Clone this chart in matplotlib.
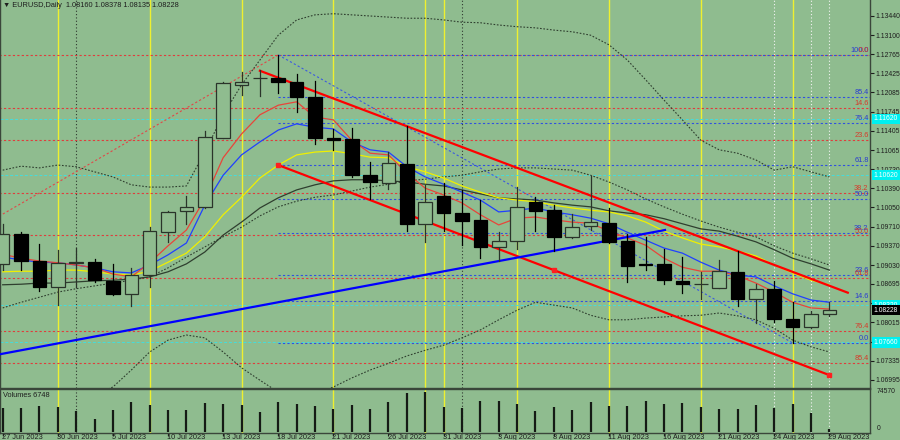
import matplotlib
matplotlib.use('Agg')
import matplotlib.pyplot as plt
from matplotlib.patches import Rectangle
from matplotlib.transforms import blended_transform_factory
import numpy as np

BG = '#8fbc8f'
FONT = ['Liberation Sans', 'DejaVu Sans']
FS = 5.3
FSA = 4.9

# ---------------- data ----------------
date_labels = ['27 Jun 2023', '30 Jun 2023', '5 Jul 2023', '10 Jul 2023', '13 Jul 2023',
               '18 Jul 2023', '21 Jul 2023', '26 Jul 2023', '31 Jul 2023', '3 Aug 2023',
               '8 Aug 2023', '11 Aug 2023', '16 Aug 2023', '21 Aug 2023', '24 Aug 2023',
               '29 Aug 2023']
date_label_bars = [0, 3, 6, 9, 12, 15, 18, 21, 24, 27, 30, 33, 36, 39, 42, 45]

opens = [1.0905, 1.0958, 1.0910, 1.0864, 1.0907, 1.0908, 1.0875, 1.0852, 1.0885, 1.0962,
         1.0999, 1.1006, 1.1128, 1.1222, 1.1234, 1.1234, 1.1227, 1.1200, 1.1128, 1.1126,
         1.1062, 1.1048, 1.1082, 1.0976, 1.1025, 1.0995, 1.0983, 1.0935, 1.0946, 1.1015,
         1.1000, 1.0953, 1.0972, 1.0977, 1.0946, 1.0905, 1.0905, 1.0875, 1.0869, 1.0862,
         1.0891, 1.0843, 1.0861, 1.0807, 1.0793, 1.08160]
highs = [1.0976, 1.0962, 1.0940, 1.0930, 1.0933, 1.0914, 1.0905, 1.0898, 1.0970, 1.0999,
         1.1025, 1.1140, 1.1227, 1.1245, 1.1248, 1.1275, 1.1241, 1.1229, 1.1144, 1.1146,
         1.1085, 1.1103, 1.1149, 1.1045, 1.1048, 1.1036, 1.1018, 1.0962, 1.1041, 1.1024,
         1.1009, 1.0993, 1.1061, 1.1004, 1.0958, 1.0953, 1.0931, 1.0917, 1.0891, 1.0912,
         1.0928, 1.0869, 1.0875, 1.0838, 1.0822, 1.08378]
lows = [1.0894, 1.0894, 1.0857, 1.0832, 1.0864, 1.0873, 1.0850, 1.0830, 1.0864, 1.0944,
        1.0976, 1.1004, 1.1128, 1.1204, 1.1202, 1.1208, 1.1174, 1.1117, 1.1107, 1.1059,
        1.1020, 1.1038, 1.0963, 1.0944, 1.0963, 1.0938, 1.0915, 1.0910, 1.0931, 1.0963,
        1.0928, 1.0951, 1.0965, 1.0942, 1.0873, 1.0894, 1.0869, 1.0853, 1.0843, 1.0862,
        1.0830, 1.0800, 1.0802, 1.0765, 1.0792, 1.08135]
closes = [1.0958, 1.0910, 1.0864, 1.0907, 1.0908, 1.0877, 1.0852, 1.0885, 1.0963, 1.0997,
          1.1006, 1.1130, 1.1225, 1.1227, 1.1235, 1.1227, 1.1201, 1.1128, 1.1124, 1.1062,
          1.1050, 1.1084, 1.0976, 1.1015, 1.0995, 1.0981, 1.0935, 1.0946, 1.1006, 1.0999,
          1.0953, 1.0970, 1.0979, 1.0944, 1.0901, 1.0903, 1.0877, 1.0869, 1.0870, 1.0892,
          1.0843, 1.0861, 1.0807, 1.0793, 1.0816, 1.08228]
volumes = [44400, 45000, 48700, 46300, 39400, 24100, 41300, 56100, 50500, 41300,
           41300, 54200, 52400, 51100, 37600, 55500, 52400, 49200, 43100, 51100,
           42600, 56100, 72200, 74570, 47400, 44400, 57400, 57400, 52400, 38900,
           47400, 41300, 56600, 48700, 49200, 58500, 52900, 54200, 47400, 43100,
           43700, 51100, 45000, 51800, 35700, 6748]

ma_red = [1.0922, 1.0915, 1.0910, 1.0907, 1.0903, 1.0898, 1.0887, 1.0882, 1.0907, 1.0937,
          1.0965, 1.1020, 1.1093, 1.1135, 1.1169, 1.1186, 1.1192, 1.1165, 1.1160, 1.1124,
          1.1101, 1.1098, 1.1066, 1.1039, 1.1027, 1.1013, 1.0992, 1.0974, 1.0986, 1.0988,
          1.0983, 1.0979, 1.0977, 1.0963, 1.0951, 1.0938, 1.0915, 1.0899, 1.0892, 1.0892,
          1.0884, 1.0871, 1.0855, 1.0837, 1.0827, 1.0825]
ma_blue = [1.0917, 1.0912, 1.0908, 1.0907, 1.0903, 1.0898, 1.0891, 1.0889, 1.0903, 1.0921,
           1.0942, 1.1009, 1.1062, 1.1098, 1.1121, 1.1142, 1.1153, 1.1147, 1.1144, 1.1121,
           1.1107, 1.1103, 1.1077, 1.1059, 1.1046, 1.1032, 1.1018, 1.0997, 1.1000, 1.1004,
           1.0997, 1.0992, 1.0986, 1.0976, 1.0961, 1.0947, 1.0933, 1.0924, 1.0908, 1.0894,
           1.0885, 1.0882, 1.0866, 1.0852, 1.0841, 1.0837]
ma_yellow = [1.0891, 1.0892, 1.0892, 1.0894, 1.0894, 1.0891, 1.0887, 1.0885, 1.0892, 1.0908,
             1.0924, 1.0953, 1.0992, 1.1023, 1.1057, 1.1080, 1.1098, 1.1103, 1.1105, 1.1100,
             1.1094, 1.1093, 1.1077, 1.1068, 1.1057, 1.1043, 1.1032, 1.1022, 1.1018, 1.1015,
             1.1009, 1.1004, 1.1000, 1.0997, 1.0990, 1.0979, 1.0963, 1.0951, 1.0940, 1.0935,
             1.0928, 1.0919, 1.0903, 1.0889, 1.0876, 1.0868]
ma_gray = [1.0868, 1.0869, 1.0871, 1.0871, 1.0873, 1.0875, 1.0876, 1.0878, 1.0882, 1.0891,
           1.0905, 1.0926, 1.0956, 1.0979, 1.1004, 1.1022, 1.1036, 1.1045, 1.1052, 1.1054,
           1.1054, 1.1052, 1.1050, 1.1046, 1.1043, 1.1036, 1.1029, 1.1022, 1.1020, 1.1018,
           1.1013, 1.1009, 1.1006, 1.0999, 1.0995, 1.0992, 1.0985, 1.0976, 1.0967, 1.0963,
           1.0954, 1.0944, 1.0930, 1.0915, 1.0905, 1.0894]
bb_mid = [1.0827, 1.0837, 1.0846, 1.0855, 1.0861, 1.0866, 1.0871, 1.0876, 1.0882, 1.0898,
          1.0917, 1.0935, 1.0953, 1.0970, 1.0990, 1.1006, 1.1016, 1.1023, 1.1027, 1.1034,
          1.1041, 1.1046, 1.1052, 1.1055, 1.1059, 1.1062, 1.1068, 1.1073, 1.1075, 1.1075,
          1.1073, 1.1071, 1.1062, 1.1050, 1.1036, 1.1020, 1.1006, 1.0993, 1.0981, 1.0970,
          1.0961, 1.0953, 1.0937, 1.0924, 1.0914, 1.0903]
bb_up = [1.1071, 1.1078, 1.1075, 1.1080, 1.1077, 1.1068, 1.1059, 1.1045, 1.1041, 1.1041,
         1.1043, 1.1103, 1.1169, 1.1222, 1.1266, 1.1310, 1.1337, 1.1346, 1.1348, 1.1346,
         1.1344, 1.1342, 1.1340, 1.1340, 1.1337, 1.1333, 1.1332, 1.1328, 1.1325, 1.1323,
         1.1319, 1.1316, 1.1310, 1.1293, 1.1266, 1.1231, 1.1195, 1.1160, 1.1124, 1.1107,
         1.1101, 1.1089, 1.1071, 1.1077, 1.1068, 1.1059]
bb_low = [1.0629, 1.0637, 1.0646, 1.0655, 1.0664, 1.0673, 1.0687, 1.0717, 1.0749, 1.0770,
          1.0779, 1.0774, 1.0749, 1.0721, 1.0699, 1.0678, 1.0664, 1.0673, 1.0687, 1.0703,
          1.0717, 1.0729, 1.0742, 1.0752, 1.0761, 1.0774, 1.0788, 1.0806, 1.0823, 1.0837,
          1.0832, 1.0827, 1.0814, 1.0806, 1.0806, 1.0809, 1.0811, 1.0813, 1.0814, 1.0818,
          1.0813, 1.0806, 1.0791, 1.0770, 1.0758, 1.0749]

fib_levels = [0.0, 14.6, 23.6, 38.2, 50.0, 61.8, 76.4, 85.4, 100.0]
blue_fib = dict(start_bar=15, end_bar=43, high=1.1275, low=1.0765)
red_fib = dict(start_bar=-19, end_bar=15, high=1.1275, low=1.0636)

chan_upper = ([14.0, 46.0], [1.1247, 1.0854])
chan_lower = ([15.0, 30.0, 45.0], [1.1080, 1.0894, 1.0708])
blue_trend = ([-0.15, 36.05], [1.0745, 1.0965])

cyan_levels = [1.1162, 1.1062, 1.0832, 1.0766]
yellow_vlines = [3, 8, 13, 18, 23, 24, 28, 33, 38, 43]
black_vlines = [4, 25]
white_vlines = [42, 44, 45]

price_ticks = [1.13440, 1.13100, 1.12765, 1.12425, 1.12085, 1.11745, 1.11405, 1.11065,
               1.10730, 1.10390, 1.10050, 1.09710, 1.09370, 1.09030, 1.08695, 1.08355,
               1.08015, 1.07675, 1.07335, 1.06995]
hidden_ticks = [1.08355, 1.07675]   # covered by the price boxes
vol_max_label = 74570

# ---------------- figure ----------------
W, H = 900, 440
fig = plt.figure(figsize=(W / 100, H / 100), dpi=100, facecolor=BG)
ax = fig.add_axes([0, (H - 388) / H, 870 / W, 388 / H], facecolor=BG)
axv = fig.add_axes([0, (H - 433) / H, 870 / W, 44 / H], facecolor=BG, sharex=ax)

n = len(opens)
xs = np.arange(n)
XL = (-0.147, 47.21)
ax.set_xlim(*XL)
ax.set_ylim(1.06852, 1.13723)
axv.set_ylim(-1300, 80120)

for a in (ax, axv):
    for s in a.spines.values():
        s.set_color('#3a463a')
        s.set_linewidth(1.0)
    a.spines['top'].set_visible(a is axv)

# vertical lines in both panels
for a in (ax, axv):
    for b in yellow_vlines:
        a.axvline(b, color='#eef030', lw=1.0, zorder=1)
    for b in black_vlines:
        a.axvline(b, color='#303830', lw=0.8, ls=(0, (1, 2)), zorder=1)
    for b in white_vlines:
        a.axvline(b, color='#f4f4f4', lw=0.8, ls=(0, (1, 2)), zorder=1)

# cyan lines
for p in cyan_levels:
    ax.axhline(p, color='#45dcdc', lw=0.7, ls=(0, (3, 2)), zorder=2)

# red fib (0 at top)
rng = red_fib['high'] - red_fib['low']
for L in fib_levels:
    p = red_fib['high'] - L / 100 * rng
    ax.plot([red_fib['start_bar'], XL[1]], [p, p], color='#e03c3c', lw=0.8,
            ls=(0, (2, 2)), zorder=2)
ax.plot([red_fib['start_bar'], red_fib['end_bar']], [red_fib['low'], red_fib['high']],
        color='#e04848', lw=0.8, ls=(0, (2, 2)), zorder=2)

# blue fib (0 at low)
rngb = blue_fib['high'] - blue_fib['low']
for L in fib_levels:
    p = blue_fib['low'] + L / 100 * rngb
    ax.plot([blue_fib['start_bar'], XL[1]], [p, p], color='#3050e0', lw=0.8,
            ls=(0, (2, 2)), zorder=2)
ax.plot([blue_fib['start_bar'], blue_fib['end_bar']], [blue_fib['high'], blue_fib['low']],
        color='#3c5ae0', lw=0.8, ls=(0, (2, 2)), zorder=2)

# fib labels
xr = XL[1] - 0.08
for L in fib_levels:
    p = blue_fib['low'] + L / 100 * rngb
    ax.text(xr, p + 0.00012, f'{L:.1f}', color='#2a3cd0', fontsize=FS, family=FONT,
            ha='right', va='bottom', zorder=7)
for L in fib_levels:
    p = red_fib['high'] - L / 100 * rng
    if p < ax.get_ylim()[0]:
        continue
    ax.text(xr, p + 0.00012, f'{L:.1f}', color='#d63a2a', fontsize=FS, family=FONT,
            ha='right', va='bottom', zorder=7)

# indicators
ax.plot(xs, bb_up, color='#2f3f2f', lw=0.8, ls=(0, (1.5, 1.5)), zorder=3)
ax.plot(xs, bb_low, color='#2f3f2f', lw=0.8, ls=(0, (1.5, 1.5)), zorder=3)
ax.plot(xs, bb_mid, color='#2f3f2f', lw=0.8, ls=(0, (1.5, 1.5)), zorder=3)
ax.plot(xs, ma_gray, color='#2f3f2f', lw=0.9, zorder=3)
ax.plot(xs, ma_yellow, color='#f0f000', lw=0.9, zorder=3)
ax.plot(xs, ma_blue, color='#2040ff', lw=0.9, zorder=3)
ax.plot(xs, ma_red, color='#e8453a', lw=0.9, zorder=3)

# trend lines
ax.plot(*chan_upper, color='#ff0000', lw=1.6, zorder=4)
ax.plot(*chan_lower, color='#ff0000', lw=1.6, zorder=4)
ax.plot(chan_lower[0], chan_lower[1], ls='none', marker='s', ms=2.5, mfc='#ff2020',
        mec='#ff2020', zorder=4)
ax.plot(*blue_trend, color='#0000ff', lw=1.6, zorder=4)

# candles
bw = 0.74
for i in range(n):
    o, h, l, c = opens[i], highs[i], lows[i], closes[i]
    bull = c >= o
    col = '#2a342a' if bull else '#000000'
    ax.plot([i, i], [l, h], color=col, lw=0.9, zorder=5)
    lo, hi = min(o, c), max(o, c)
    if hi - lo < 0.00008:
        ax.plot([i - bw / 2, i + bw / 2], [o, o], color=col, lw=1.0, zorder=6)
    else:
        ax.add_patch(Rectangle((i - bw / 2, lo), bw, hi - lo,
                               facecolor=BG if bull else '#000000',
                               edgecolor=col, lw=0.9, zorder=6))

# volume bars
axv.vlines(xs, 0, volumes, color='#151a15', lw=1.6, zorder=3)

# ---------------- axes text ----------------
ax.yaxis.tick_right()
ax.set_yticks(price_ticks)
ax.set_yticklabels(['' if p in hidden_ticks else f'{p:.5f}' for p in price_ticks])
ax.tick_params(axis='y', length=3, width=0.8, pad=1.0, labelsize=FSA, colors='#1e1e1e')
for t in ax.get_yticklabels():
    t.set_family(FONT)
ax.tick_params(axis='x', bottom=False, labelbottom=False)

axv.set_yticks([])
axv.set_xticks(date_label_bars)
axv.set_xticklabels([])
axv.tick_params(axis='x', length=2.5, width=0.8, color='#1e1e1e', direction='out')
trans = blended_transform_factory(axv.transData, axv.transAxes)
for b, lab in zip(date_label_bars, date_labels):
    axv.text(b - 0.05, -0.03, lab, transform=trans, fontsize=FS, family=FONT,
             ha='left', va='top', color='#1e1e1e', clip_on=False)
axv.text(1.008, (vol_max_label + 1300) / 81420, f'{vol_max_label}', transform=axv.transAxes,
         fontsize=FSA, family=FONT, ha='left', va='center', color='#1e1e1e', clip_on=False)
axv.text(1.008, 0.1, '0', transform=axv.transAxes, fontsize=FSA, family=FONT,
         ha='left', va='center', color='#1e1e1e', clip_on=False)
axv.text(0.004, 0.86, f'Volumes {volumes[-1]}', transform=axv.transAxes, fontsize=FS,
         family=FONT, ha='left', va='center', color='#1e1e1e')

# cyan price boxes and current price box
tr_y = blended_transform_factory(ax.transAxes, ax.transData)
for p in cyan_levels:
    ax.text(1.0045, p, f'{p:.5f}', transform=tr_y, fontsize=FSA, family=FONT, color='white',
            ha='left', va='center', clip_on=False, zorder=8,
            bbox=dict(boxstyle='square,pad=0.25', fc='#00f0f0', ec='none'))
ax.text(1.0045, closes[-1], f'{closes[-1]:.5f}', transform=tr_y, fontsize=FSA, family=FONT,
        color='white', ha='left', va='center', clip_on=False, zorder=9,
        bbox=dict(boxstyle='square,pad=0.25', fc='#000000', ec='none'))

# header
ax.text(0.004, 0.985, f'\u25bc EURUSD,Daily  {opens[-1]:.5f} {highs[-1]:.5f} '
        f'{lows[-1]:.5f} {closes[-1]:.5f}', transform=ax.transAxes, fontsize=FS,
        family=FONT, ha='left', va='center', color='#1e1e1e', zorder=9)

fig.savefig('out.png', dpi=100, facecolor=BG)
